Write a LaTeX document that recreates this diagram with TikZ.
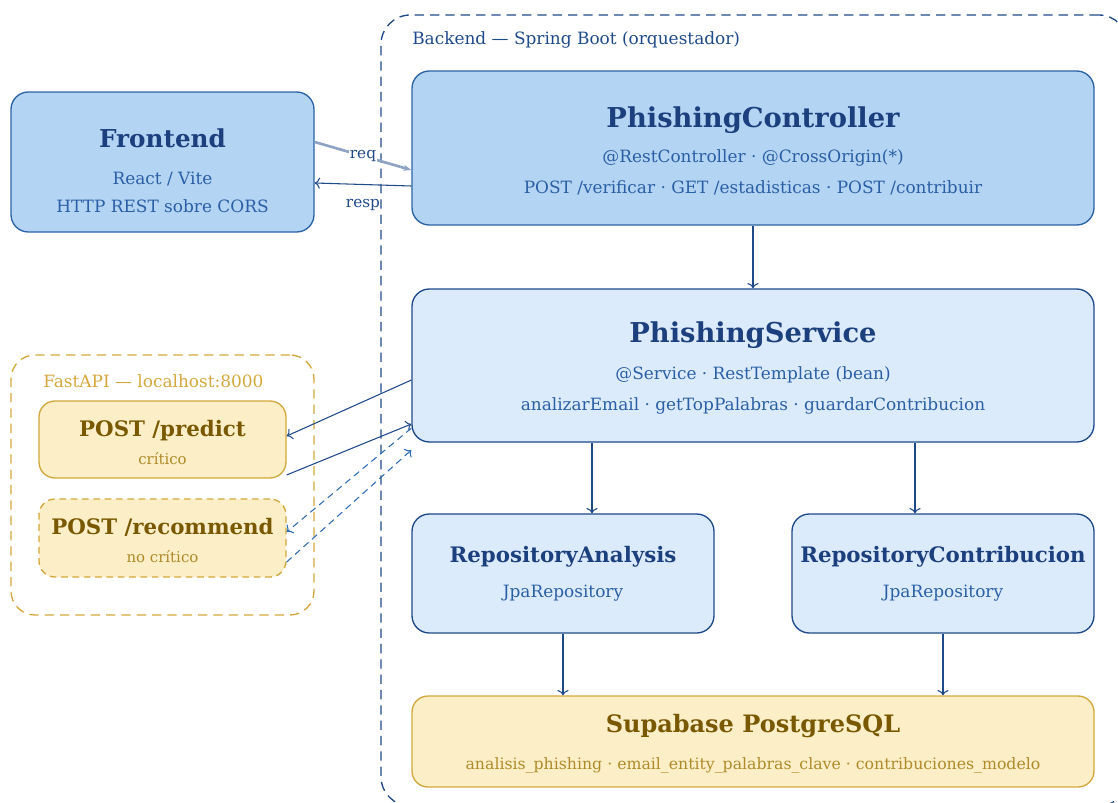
\documentclass[tikz,border=0pt]{standalone}
\usepackage{fontspec}
\setmainfont{DejaVu Serif}
\usetikzlibrary{arrows.meta}

\definecolor{ctrlfill}{HTML}{B3D4F2}
\definecolor{svcfill}{HTML}{DCEBFB}
\definecolor{boxline}{HTML}{2B63A6}
\definecolor{ttlblue}{HTML}{1C3F7E}
\definecolor{subblue}{HTML}{2A5FA5}
\definecolor{linkblue}{HTML}{1F4A8A}
\definecolor{dashblue}{HTML}{2E6DB4}
\definecolor{goldfill}{HTML}{FCEFC8}
\definecolor{goldline}{HTML}{D4A73C}
\definecolor{goldttl}{HTML}{7A5800}
\definecolor{goldsub}{HTML}{B08A2A}

\begin{document}
\begin{tikzpicture}[x=0.75pt,y=-0.75pt,
    box/.style={draw=boxline, line width=1pt, rounded corners=13pt, align=center, inner sep=0pt, text=subblue},
    gbox/.style={draw=goldline, fill=goldfill, line width=1pt, rounded corners=12pt, align=center, inner sep=0pt, text=goldsub},
    group/.style={draw, dash pattern=on 7pt off 4.5pt, line width=1pt, rounded corners=22pt, inner sep=0pt},
    link/.style={draw=linkblue, line width=0.8pt, -{To[length=4pt]}},
    dlink/.style={draw=dashblue, line width=0.8pt, dash pattern=on 5pt off 3.5pt, -{To[length=4pt]}}]
    \useasboundingbox (0,0) rectangle (1118,803);
    \clip (0,0) rectangle (1118,803);
    % font sizes
    \def\bigttl{\rule{0pt}{20pt}\fontsize{20.5}{24}\selectfont\bfseries}
    \def\midttl{\fontsize{16}{19}\selectfont\bfseries}
    \def\lbl{\fontsize{12.7}{15}\selectfont}

    % Backend group
    \node[group, draw=linkblue, minimum width=560.25pt, minimum height=593.25pt] (backend) at (754.5,410.5) {};
    \node[anchor=west, inner sep=0pt, text=linkblue, font=\lbl] (backendlbl) at (412,40) {Backend — Spring Boot (orquestador)};

    % FastAPI group
    \node[group, draw=goldline, rounded corners=18pt, minimum width=227.25pt, minimum height=195pt] (fastapi) at (162.5,485) {};
    \node[anchor=west, inner sep=0pt, text=goldline, font=\lbl] (fastapilbl) at (43,381) {FastAPI — localhost:8000};

    % Frontend
    \node[box, fill=ctrlfill, font=\fontsize{12.7}{21}\selectfont, minimum width=227.25pt, minimum height=105pt] (front) at (162.5,162)
        {{\rule{0pt}{27pt}\fontsize{18.5}{22}\selectfont\bfseries\color{ttlblue} Frontend}\\[7pt]React / Vite\\HTTP REST sobre CORS};

    % Controller
    \node[box, fill=ctrlfill, font=\fontsize{12.7}{23.25}\selectfont, minimum width=511.5pt, minimum height=115.5pt] (ctrl) at (753,148)
        {{\bigttl\color{ttlblue} PhishingController}\\[3pt]@RestController · @CrossOrigin(*)\\POST /verificar · GET /estadisticas · POST /contribuir};

    % Service
    \node[box, fill=svcfill, draw=linkblue, font=\fontsize{12.7}{23.25}\selectfont, minimum width=511.5pt, minimum height=114.75pt] (svc) at (753,365.5)
        {{\bigttl\color{ttlblue} PhishingService}\\[4.5pt]@Service · RestTemplate (bean)\\analizarEmail · getTopPalabras · guardarContribucion};

    % Repositories
    \node[box, fill=svcfill, draw=linkblue, font=\fontsize{12.7}{23.25}\selectfont, minimum width=226.5pt, minimum height=89.25pt] (repA) at (563,573.5)
        {{\midttl\color{ttlblue} RepositoryAnalysis}\\[3pt]JpaRepository};
    \node[box, fill=svcfill, draw=linkblue, font=\fontsize{12.7}{23.25}\selectfont, minimum width=226.5pt, minimum height=89.25pt] (repC) at (943,573.5)
        {{\midttl\color{ttlblue} RepositoryContribucion}\\[3pt]JpaRepository};

    % Database
    \node[gbox, font=\fontsize{11.8}{27.75}\selectfont, minimum width=511.5pt, minimum height=68.25pt] (db) at (753,741.5)
        {{\rule{0pt}{16.7pt}\fontsize{18}{21}\selectfont\bfseries\color{goldttl} Supabase PostgreSQL}\\analisis\_phishing · email\_entity\_palabras\_clave · contribuciones\_modelo};

    % FastAPI endpoints
    \node[gbox, font=\fontsize{11.2}{21}\selectfont, minimum width=185.25pt, minimum height=57.75pt] (pred) at (162.5,439.5)
        {{\rule{0pt}{16pt}\midttl\color{goldttl} POST /predict}\\crítico};
    \node[gbox, dash pattern=on 5pt off 3.5pt, font=\fontsize{11.2}{21}\selectfont, minimum width=185.25pt, minimum height=58.5pt] (rec) at (162.5,538)
        {{\rule{0pt}{16pt}\midttl\color{goldttl} POST /recommend}\\no crítico};

    % Frontend <-> Controller
    \draw[draw=linkblue!50, line width=2pt, -{Stealth[length=6pt]}] ([yshift=15pt]front.east) -- ([yshift=-16.5pt]ctrl.west)
        node[midway, fill=white, inner sep=1pt, text=linkblue, font=\fontsize{11.5}{13}\selectfont] (reqlbl) {req};
    \draw[link] ([yshift=-28.5pt]ctrl.west) -- ([yshift=-15.75pt]front.east)
        node[midway, below=10pt, inner sep=1pt, text=linkblue, font=\fontsize{11.5}{13}\selectfont] (resplbl) {resp};

    % Backend flow
    \draw[link] (ctrl.south) -- (svc.north);
    \draw[link] ([xshift=-120.75pt]svc.south) -- ([xshift=21.75pt]repA.north);
    \draw[link] ([xshift=121.5pt]svc.south) -- ([xshift=-21pt]repC.north);
    \draw[link] (repA.south) -- (repA.south |- db.north);
    \draw[link] (repC.south) -- (repC.south |- db.north);

    % Service <-> FastAPI
    \draw[link] ([yshift=-10.9pt]svc.west) -- ([yshift=2.6pt]pred.east);
    \draw[link] ([yshift=-26.6pt]pred.east) -- ([yshift=-43.9pt]svc.west);
    \draw[dlink] ([yshift=-47pt]svc.west) -- ([yshift=4.5pt]rec.east);
    \draw[dlink] ([yshift=-18pt]rec.east) -- ([yshift=-63.4pt]svc.west);
\end{tikzpicture}
\end{document}
